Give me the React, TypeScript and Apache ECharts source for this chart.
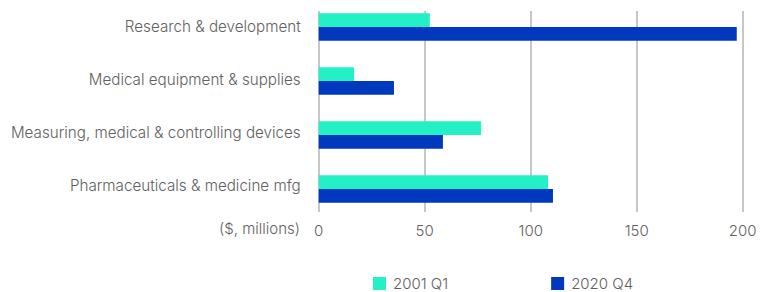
import React, { useEffect, useRef } from "react";
import * as echarts from "echarts";

const categories = [
  "Research & development",
  "Medical equipment & supplies",
  "Measuring, medical & controlling devices",
  "Pharmaceuticals & medicine mfg",
];
const series2001Q1 = [52.4, 16.7, 76.6, 108.2];
const series2020Q4 = [197.2, 35.5, 58.6, 110.5];
const seriesNames = ["2001 Q1", "2020 Q4"];
const xTicks = [0, 50, 100, 150, 200];

const FONT = "Inter, 'Noto Sans', sans-serif";
const TEXT = "#606060";
const FS = 15;

export default function App() {
  const ref = useRef<HTMLDivElement>(null);
  useEffect(() => {
    if (!ref.current) return;
    const chart = echarts.init(ref.current, null, { renderer: "svg" });
    chart.setOption({
      animation: false,
      textStyle: { fontFamily: FONT },
      legend: {
        data: seriesNames,
        left: 368,
        top: 271,
        itemWidth: 13,
        itemHeight: 13,
        itemGap: 103,
        icon: "rect",
        textStyle: { color: TEXT, fontSize: FS, fontWeight: 300, fontFamily: FONT, padding: [0, 0, 0, 2] },
      },
      grid: [
        { left: 318.7, right: 28.3, top: 11, height: 201 },
        { left: 318.7, right: 28.3, top: -3.5, height: 219.5 },
        { left: 318.7, right: 28.3, top: -7.5, height: 219.5 },
      ],
      xAxis: [
        {
          gridIndex: 0,
          type: "value",
          min: xTicks[0],
          max: xTicks[xTicks.length - 1],
          interval: 50,
          axisLine: { show: false },
          axisTick: { show: false },
          splitLine: { show: true, lineStyle: { color: "#b5b5b5", width: 1.5 } },
          axisLabel: { color: TEXT, fontSize: FS, fontWeight: 300, margin: 11, fontFamily: FONT },
        },
        {
          gridIndex: 1,
          type: "value",
          min: xTicks[0],
          max: xTicks[xTicks.length - 1],
          show: false,
          splitLine: { show: false },
        },
        {
          gridIndex: 2,
          type: "value",
          min: xTicks[0],
          max: xTicks[xTicks.length - 1],
          show: false,
          splitLine: { show: false },
        },
      ],
      yAxis: [
        {
          gridIndex: 0,
          type: "category",
          data: categories,
          show: false,
        },
        {
          gridIndex: 1,
          type: "category",
          data: categories,
          inverse: true,
          show: false,
        },
        {
          gridIndex: 2,
          type: "category",
          data: categories,
          inverse: true,
          axisLine: { show: false },
          axisTick: { show: false },
          splitLine: { show: false },
          axisLabel: {
            color: TEXT,
            fontSize: 15.2,
            fontWeight: 300,
            margin: 18,
            fontFamily: FONT,
          },
        },
      ],
      graphic: [
        {
          type: "text",
          right: 771 - 300,
          top: 221,
          style: {
            text: "($, millions)",
            fill: TEXT,
            fontSize: FS,
            fontWeight: 300,
            fontFamily: FONT,
          },
        },
      ],
      series: [
        {
          name: seriesNames[0],
          type: "bar",
          xAxisIndex: 1,
          yAxisIndex: 1,
          data: series2001Q1,
          barWidth: 13.7,
          barGap: "0%",
          itemStyle: { color: "#23f0c4" },
        },
        {
          name: seriesNames[1],
          type: "bar",
          xAxisIndex: 1,
          yAxisIndex: 1,
          data: series2020Q4,
          barWidth: 13.7,
          barGap: "0%",
          itemStyle: { color: "#0038be" },
        },
      ],
    });
    return () => chart.dispose();
  }, []);
  return <div ref={ref} style={{ width: 771, height: 292, position: "absolute", left: 0, top: 0 }} />;
}
